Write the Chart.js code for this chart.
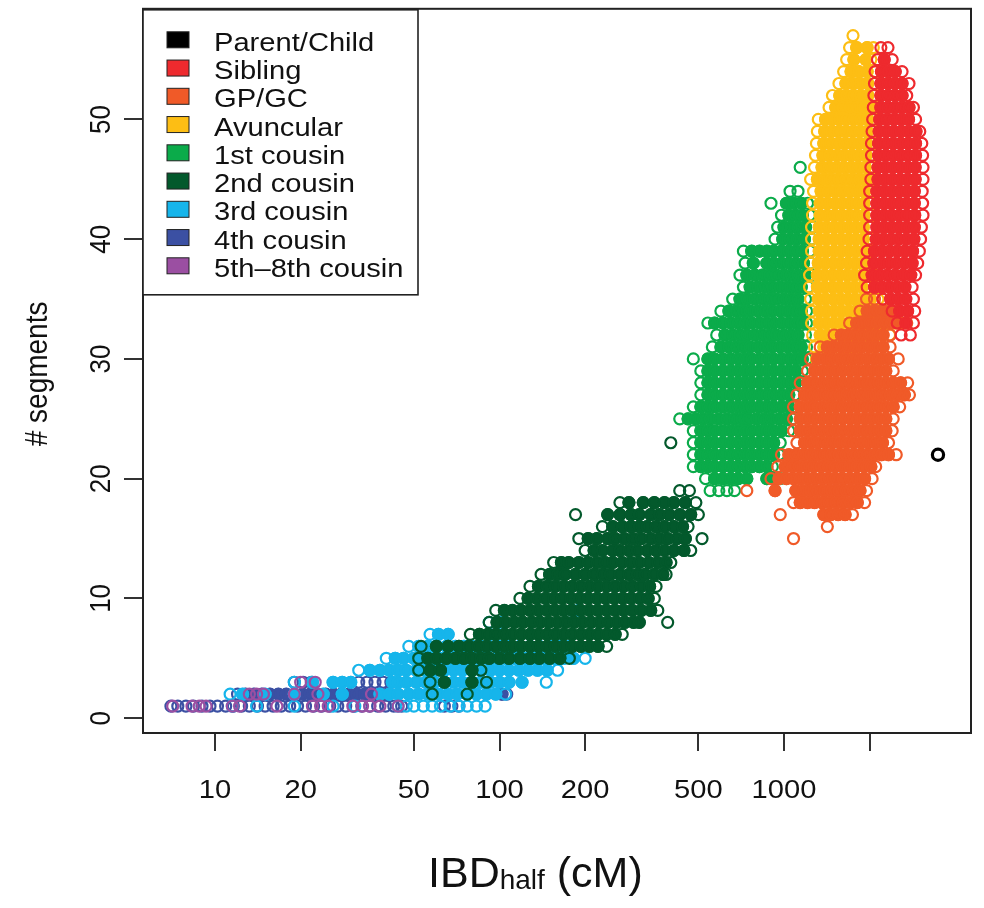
<!DOCTYPE html>
<html>
<head>
<meta charset="utf-8">
<script src="https://cdn.jsdelivr.net/npm/chart.js@4.4.1/dist/chart.umd.min.js"></script>
<style>
  html, body { margin: 0; padding: 0; background: #fff; }
  #wrap { position: relative; width: 984px; height: 908px; }
</style>
</head>
<body>
<div id="wrap"><canvas id="chart"></canvas></div>
<script>
const categories = ['Parent/Child', 'Sibling', 'GP/GC', 'Avuncular', '1st cousin',
  '2nd cousin', '3rd cousin', '4th cousin', '5th\u20138th cousin'];
const colors = ['#000000', '#ee2a2e', '#f05a28', '#fdbe14', '#0bab4a',
  '#03592c', '#16b5eb', '#3b50a3', '#9b4fa2'];

const xTicks = [10, 20, 50, 100, 200, 500, 1000, 2000];
const xTickLabels = ['10', '20', '50', '100', '200', '500', '1000', ''];
const yTicks = [0, 10, 20, 30, 40, 50];

// each row: [# segments, [IBDhalf values in cM]]
const parentChild = [[22, [3477]]];

const sibling = [
  [56, [2190, 2320]],
  [55, [2130, 2250, 2400]],
  [54, [2090, 2200, 2330, 2460, 2600]],
  [53, [2080, 2190, 2320, 2450, 2600, 2750]],
  [52, [2070, 2190, 2320, 2460, 2600, 2700]],
  [51, [2060, 2190, 2320, 2460, 2600, 2750, 2850]],
  [50, [2050, 2170, 2300, 2440, 2590, 2740, 2900]],
  [49, [2040, 2160, 2290, 2430, 2580, 2740, 2910, 3000]],
  [48, [2030, 2150, 2280, 2420, 2570, 2730, 2900, 3050]],
  [47, [2030, 2150, 2280, 2420, 2570, 2730, 2900, 3070]],
  [46, [2020, 2140, 2270, 2410, 2560, 2720, 2890, 3080]],
  [45, [2020, 2140, 2270, 2410, 2560, 2720, 2890, 3080]],
  [44, [2000, 2120, 2250, 2390, 2540, 2700, 2870, 3060]],
  [43, [2000, 2120, 2250, 2390, 2540, 2700, 2870, 3070]],
  [42, [2000, 2120, 2250, 2390, 2540, 2700, 2880, 3080]],
  [41, [2000, 2120, 2250, 2390, 2540, 2700, 2870, 3040]],
  [40, [1990, 2110, 2240, 2380, 2530, 2690, 2860, 3020]],
  [39, [1960, 2080, 2210, 2350, 2500, 2660, 2830, 2990]],
  [38, [1950, 2070, 2200, 2340, 2490, 2650, 2820, 2950]],
  [37, [1920, 2040, 2170, 2310, 2460, 2620, 2790, 2900]],
  [36, [1960, 2080, 2210, 2350, 2500, 2660, 2820]],
  [35, [2230, 2370, 2520, 2680, 2850]],
  [34, [2400, 2550, 2720, 2880]],
  [33, [2500, 2680, 2850]],
  [32, [2580, 2780]]
];

const gpgc = [
  [35, [1950, 2080, 2220]],
  [34, [1850, 1960, 2080, 2200, 2330, 2470]],
  [33, [1700, 1800, 1900, 2000, 2120, 2250, 2380, 2520, 2700]],
  [32, [1500, 1590, 1680, 1780, 1880, 1990, 2100, 2230, 2360]],
  [31, [1340, 1420, 1500, 1590, 1680, 1780, 1880, 1990, 2100, 2230, 2360]],
  [30, [1240, 1310, 1390, 1470, 1560, 1650, 1750, 1850, 1960, 2080, 2200, 2330, 2520]],
  [29, [1210, 1280, 1360, 1440, 1520, 1610, 1710, 1810, 1920, 2030, 2150, 2280, 2420]],
  [28, [1140, 1210, 1280, 1360, 1440, 1520, 1610, 1710, 1810, 1920, 2030, 2150, 2280, 2420, 2570, 2720]],
  [27, [1110, 1180, 1250, 1320, 1400, 1480, 1570, 1660, 1760, 1870, 1980, 2100, 2220, 2360, 2500, 2650, 2760]],
  [26, [1080, 1140, 1210, 1280, 1360, 1440, 1520, 1610, 1710, 1810, 1920, 2030, 2150, 2280, 2420, 2550]],
  [25, [1080, 1140, 1210, 1280, 1360, 1440, 1520, 1610, 1710, 1810, 1920, 2030, 2150, 2280, 2420]],
  [24, [1080, 1140, 1210, 1280, 1360, 1440, 1520, 1610, 1710, 1810, 1920, 2030, 2150, 2280, 2400]],
  [23, [1110, 1180, 1250, 1320, 1400, 1480, 1570, 1660, 1760, 1870, 1980, 2100, 2220, 2330]],
  [22, [980, 1040, 1100, 1170, 1240, 1310, 1390, 1470, 1560, 1650, 1750, 1850, 1960, 2080, 2200, 2330, 2480]],
  [21, [950, 1010, 1070, 1130, 1200, 1270, 1350, 1430, 1510, 1600, 1700, 1800, 1910, 2020, 2100]],
  [20, [900, 960, 1020, 1080, 1140, 1210, 1280, 1360, 1440, 1520, 1610, 1710, 1810, 1920, 2040]],
  [19, [740, 930, 1100, 1170, 1240, 1310, 1390, 1470, 1560, 1650, 1750, 1850, 1950]],
  [18, [1080, 1140, 1210, 1280, 1360, 1440, 1520, 1610, 1710, 1810, 1920]],
  [17, [970, 1380, 1460, 1550, 1640, 1740]],
  [16, [1420]],
  [15, [1080]]
];

const avuncular = [
  [57, [1748]],
  [56, [1700, 1800, 1960, 2060]],
  [55, [1660, 1760, 1940, 2020]],
  [54, [1620, 1720, 1830, 1960, 2100]],
  [53, [1560, 1650, 1750, 1860, 1970, 2090]],
  [52, [1480, 1570, 1660, 1760, 1860, 1970, 2090]],
  [51, [1440, 1520, 1610, 1710, 1810, 1920, 2030, 2100]],
  [50, [1320, 1400, 1480, 1570, 1660, 1760, 1860, 1970, 2090]],
  [49, [1310, 1390, 1470, 1560, 1650, 1750, 1850, 1960, 2080]],
  [48, [1300, 1380, 1460, 1550, 1640, 1740, 1840, 1950, 2070]],
  [47, [1290, 1370, 1450, 1540, 1630, 1730, 1830, 1940, 2070]],
  [46, [1280, 1360, 1440, 1530, 1620, 1720, 1820, 1930, 2060]],
  [45, [1240, 1310, 1390, 1470, 1560, 1650, 1750, 1850, 1960, 2080]],
  [44, [1270, 1350, 1430, 1520, 1610, 1710, 1810, 1920, 2050]],
  [43, [1260, 1340, 1420, 1510, 1600, 1700, 1800, 1910, 2040]],
  [42, [1260, 1340, 1420, 1510, 1600, 1700, 1800, 1910, 2040]],
  [41, [1250, 1330, 1410, 1500, 1590, 1690, 1790, 1900, 2030]],
  [40, [1250, 1330, 1410, 1500, 1590, 1690, 1790, 1900, 2030]],
  [39, [1250, 1330, 1410, 1500, 1590, 1690, 1790, 1900, 2030]],
  [38, [1240, 1320, 1400, 1490, 1580, 1680, 1780, 1890, 2020]],
  [37, [1230, 1310, 1390, 1480, 1570, 1670, 1770, 1880, 2000, 2120]],
  [36, [1230, 1310, 1390, 1480, 1570, 1670, 1770, 1880, 2000]],
  [35, [1240, 1320, 1400, 1490, 1580, 1680, 1780, 1890, 2010, 2140]],
  [34, [1250, 1330, 1410, 1500, 1590, 1690, 1790, 1900, 2020, 2150, 2280]],
  [33, [1250, 1330, 1410, 1500, 1590, 1690, 1790, 1900, 2020, 2150, 2290, 2440, 2600]],
  [32, [1260, 1340, 1420, 1510, 1600, 1700, 1810, 1930, 2060, 2200, 2350]],
  [31, [1280, 1380, 1490, 1600, 1720, 1850, 2000]],
  [30, [1300, 1420, 1560, 1700]]
];

const cousin1 = [
  [46, [1140]],
  [44, [1050, 1120]],
  [43, [900, 1020, 1080, 1150, 1210]],
  [42, [980, 1040, 1100, 1160, 1230]],
  [41, [950, 1000, 1060, 1120, 1190, 1260]],
  [40, [930, 990, 1050, 1110, 1180, 1250]],
  [39, [720, 770, 820, 870, 920, 980, 1040, 1100, 1160, 1230]],
  [38, [730, 780, 870, 920, 980, 1040, 1100, 1170, 1240]],
  [37, [700, 740, 790, 840, 890, 940, 1000, 1060, 1120, 1190, 1260]],
  [36, [720, 760, 810, 860, 910, 970, 1030, 1090, 1150, 1220]],
  [35, [660, 700, 740, 790, 840, 890, 940, 1000, 1060, 1120, 1190]],
  [34, [600, 640, 680, 720, 760, 810, 860, 910, 970, 1030, 1090, 1150, 1200]],
  [33, [540, 570, 610, 650, 690, 730, 770, 820, 870, 920, 980, 1040, 1100, 1160, 1200]],
  [32, [580, 620, 660, 700, 740, 790, 840, 890, 940, 1000, 1060, 1120, 1190]],
  [31, [560, 600, 640, 680, 720, 760, 810, 860, 910, 970, 1030, 1090, 1150, 1200]],
  [30, [480, 540, 570, 610, 650, 690, 730, 770, 820, 870, 920, 980, 1040, 1100, 1160, 1200]],
  [29, [510, 540, 570, 610, 650, 690, 730, 770, 820, 870, 920, 980, 1040, 1100, 1160]],
  [28, [510, 540, 570, 610, 650, 690, 730, 770, 820, 870, 920, 980, 1040, 1100, 1140]],
  [27, [510, 540, 570, 610, 650, 690, 730, 770, 820, 870, 920, 980, 1040, 1090]],
  [26, [480, 510, 540, 570, 610, 650, 690, 730, 770, 820, 870, 920, 980, 1040, 1090]],
  [25, [430, 460, 490, 520, 550, 590, 630, 670, 710, 750, 800, 850, 900, 960, 1020, 1070]],
  [24, [480, 510, 540, 570, 610, 650, 690, 730, 770, 820, 870, 920, 980, 1040]],
  [23, [480, 510, 540, 570, 610, 650, 690, 730, 770, 820, 870, 920, 970]],
  [22, [480, 510, 540, 570, 610, 650, 690, 730, 770, 820, 870, 920, 960]],
  [21, [480, 510, 540, 570, 610, 650, 690, 730, 770, 820, 870, 910]],
  [20, [530, 570, 610, 650, 690, 740, 870, 920, 970]],
  [19, [550, 590, 630, 670]]
];

const cousin2 = [
  [23, [400]],
  [19, [430, 465]],
  [18, [265, 285, 320, 350, 380, 410, 450, 490]],
  [17, [185, 240, 265, 290, 310, 340, 365, 395, 430, 470, 500]],
  [16, [230, 250, 270, 290, 310, 330, 355, 380, 410, 440, 460]],
  [15, [190, 205, 220, 240, 255, 275, 295, 315, 340, 365, 390, 420, 450, 515]],
  [14, [200, 215, 230, 250, 265, 285, 305, 330, 355, 380, 410, 445, 470]],
  [13, [155, 165, 175, 190, 205, 220, 235, 250, 270, 290, 310, 335, 360, 385, 400]],
  [12, [140, 150, 160, 170, 185, 200, 215, 230, 245, 265, 285, 305, 325, 350, 375, 385]],
  [11, [128, 137, 147, 157, 168, 180, 193, 207, 222, 238, 255, 273, 293, 315, 337, 355]],
  [10, [118, 126, 135, 145, 155, 166, 178, 191, 205, 220, 236, 253, 271, 290, 311, 333, 350]],
  [9, [97, 104, 111, 119, 128, 137, 147, 157, 168, 180, 193, 207, 222, 238, 255, 273, 293, 315, 340, 360]],
  [8, [92, 98, 105, 113, 121, 130, 139, 149, 160, 171, 183, 196, 210, 225, 241, 258, 276, 296, 310, 390]],
  [7, [79, 85, 91, 97, 104, 111, 119, 128, 137, 147, 157, 168, 180, 193, 207, 222, 238, 255, 270]],
  [6, [53, 60, 66, 72, 78, 84, 90, 97, 104, 111, 119, 128, 137, 147, 157, 168, 180, 193, 207, 222, 238]],
  [5, [52, 56, 60, 65, 70, 75, 80, 86, 92, 100, 108, 118, 128, 138, 150, 163, 176]],
  [4, [52, 57, 62, 80, 86]],
  [3, [57, 64, 80, 90]],
  [2, [58, 77]]
];

const cousin3 = [
  [9, [180, 190]],
  [8, [92, 100]],
  [7, [57, 61, 66, 92]],
  [6, [48, 52, 56, 60, 65, 70, 75, 80, 86, 92, 100, 108, 118, 128, 138, 150, 163, 176]],
  [5, [40, 43, 46, 50, 54, 58, 62, 67, 72, 78, 84, 90, 97, 105, 113, 122, 132, 143, 155, 168, 182, 200]],
  [4, [32, 35, 38, 41, 44, 47, 51, 55, 59, 64, 69, 74, 80, 86, 93, 100, 108, 117, 126, 136, 147, 160]],
  [3, [19, 22, 26, 28, 30, 42, 44, 47, 51, 55, 59, 64, 69, 74, 80, 86, 93, 100, 108, 120, 146]],
  [2, [11.3, 12.5, 15, 19, 24, 28, 38, 41, 44, 48, 52, 56, 61, 66, 71, 77, 83, 90, 97, 105]],
  [1, [11.5, 14, 19, 26, 31, 44, 47, 50, 54, 58, 62, 67, 72, 77, 83, 89]]
];

const cousin4 = [
  [3, [19, 20.4, 21.8, 32, 34.2, 36.5, 39, 41.5]],
  [2, [12, 12.8, 13.7, 14.6, 15.6, 16.7, 17.8, 19, 20.3, 21.6, 23, 24.5, 26.1, 27.8, 29.6, 31.5,
       33.6, 35.8, 38.1, 40.5, 102, 106]],
  [1, [7.0, 7.4, 7.9, 8.4, 9.0, 9.6, 10.2, 10.9, 11.6, 12.4, 13.2, 14.1, 15.0, 16.0, 17.1, 18.3,
       19.5, 20.8, 22.2, 23.7, 25.3, 27.0, 28.8, 30.7, 32.8, 35.0, 37.3, 39.8, 42.5, 45.3, 64, 68, 72]]
];

const cousin5to8 = [
  [3, [20, 22.5]],
  [2, [13.2, 14, 14.8, 19, 23, 35.5]],
  [1, [7.1, 8.3, 8.8, 9.3, 11.5, 12.2, 16.5, 22, 23.5, 25, 30.5, 33, 35, 38, 44]]
];

const seriesRows = [parentChild, sibling, gpgc, avuncular, cousin1, cousin2, cousin3, cousin4, cousin5to8];

const FONT = '"Liberation Sans", Arial, Helvetica, sans-serif';
const STRETCH = 1.12; // the reference text is a little wide

function toPoints(rows) {
  return rows.flatMap(([y, xs]) => xs.map(x => ({ x, y })));
}

// dense interior of a cluster: drop outer rows and row ends
function innerPoints(rows) {
  return toPoints(rows.slice(1, -1).map(([y, xs]) => [y, xs.slice(1, -1)]));
}

// first one is drawn on top
const drawOrder = [0, 1, 2, 3, 4, 5, 8, 6, 7];
const filled = [false, true, true, true, true, true, true, true, false];

const datasets = [];
drawOrder.forEach(i => {
  datasets.push({
    label: categories[i],
    data: toPoints(seriesRows[i]),
    pointBorderColor: colors[i],
    pointBackgroundColor: 'rgba(0,0,0,0)',
    pointRadius: i === 0 ? 5.6 : 5.5,
    pointBorderWidth: i === 0 ? 3.2 : 2.2,
  });
  if (filled[i]) {
    datasets.push({
      label: categories[i] + ' core',
      data: innerPoints(seriesRows[i]),
      pointBorderColor: colors[i],
      pointBackgroundColor: colors[i],
      pointRadius: 6.5,
      pointBorderWidth: 0,
    });
  }
});

function wideText(ctx, text, x, y, size, align, rotate) {
  ctx.save();
  ctx.translate(x, y);
  ctx.scale(STRETCH, 1);
  if (rotate) ctx.rotate(-Math.PI / 2);
  ctx.font = size + 'px ' + FONT;
  ctx.textAlign = align;
  ctx.textBaseline = 'alphabetic';
  ctx.fillText(text, 0, 0);
  ctx.restore();
}

const decor = {
  id: 'decor',
  afterDraw(chart) {
    const { ctx, chartArea: a, scales } = chart;
    ctx.save();
    ctx.fillStyle = '#111';

    // plot frame
    ctx.strokeStyle = '#222';
    ctx.lineWidth = 2;
    ctx.strokeRect(a.left, a.top, a.right - a.left, a.bottom - a.top);

    // tick labels
    xTicks.forEach((v, i) => {
      if (xTickLabels[i]) wideText(ctx, xTickLabels[i], scales.x.getPixelForValue(v), a.bottom + 65, 26, 'center');
    });
    yTicks.forEach(v => {
      wideText(ctx, String(v), a.left - 33, scales.y.getPixelForValue(v), 26, 'center', true);
    });

    // axis titles
    wideText(ctx, '# segments', 47, (a.top + a.bottom) / 2 + 3, 28, 'center', true);
    ctx.save();
    ctx.translate(428, 887);
    ctx.textAlign = 'left';
    ctx.textBaseline = 'alphabetic';
    ctx.font = '43px ' + FONT;
    ctx.fillText('IBD', 0, 0);
    let w = ctx.measureText('IBD').width;
    ctx.font = '28px ' + FONT;
    ctx.fillText('half', w, 2);
    w += ctx.measureText('half').width;
    ctx.font = '43px ' + FONT;
    ctx.fillText(' (cM)', w, 0);
    ctx.restore();

    // legend
    const lx = a.left, ly = a.top + 1;
    ctx.fillStyle = '#fff';
    ctx.fillRect(lx, ly, 275, 285);
    ctx.strokeStyle = '#222';
    ctx.lineWidth = 1.6;
    ctx.strokeRect(lx, ly, 275, 285);
    categories.forEach((name, i) => {
      const cy = ly + 30 + i * 28.25;
      ctx.fillStyle = colors[i];
      ctx.fillRect(lx + 24, cy - 8, 22, 16);
      ctx.strokeStyle = '#222';
      ctx.lineWidth = 1;
      ctx.strokeRect(lx + 24, cy - 8, 22, 16);
      ctx.fillStyle = '#111';
      wideText(ctx, name, lx + 71, cy + 11, 26, 'left');
    });
    ctx.restore();
  }
};

new Chart(document.getElementById('chart'), {
  type: 'scatter',
  data: { datasets },
  options: {
    responsive: true,
    maintainAspectRatio: false,
    animation: false,
    devicePixelRatio: 1,
    events: [],
    layout: { padding: { top: 8, right: 13, left: 0, bottom: 0 } },
    plugins: { legend: { display: false }, tooltip: { enabled: false } },
    scales: {
      x: {
        type: 'logarithmic',
        min: 5.583,
        max: 4542,
        afterBuildTicks: s => { s.ticks = xTicks.map(v => ({ value: v })); },
        afterFit: s => { s.height = 175; },
        ticks: { display: false },
        grid: { drawOnChartArea: false, drawTicks: true, tickLength: 18, color: '#333', lineWidth: 2 },
        border: { display: false },
      },
      y: {
        type: 'linear',
        min: -1.24,
        max: 59.24,
        afterBuildTicks: s => { s.ticks = yTicks.map(v => ({ value: v })); },
        afterFit: s => { s.width = 143; },
        ticks: { display: false },
        grid: { drawOnChartArea: false, drawTicks: true, tickLength: 19, color: '#333', lineWidth: 2 },
        border: { display: false },
      },
    },
  },
  plugins: [decor],
});
</script>
</body>
</html>
